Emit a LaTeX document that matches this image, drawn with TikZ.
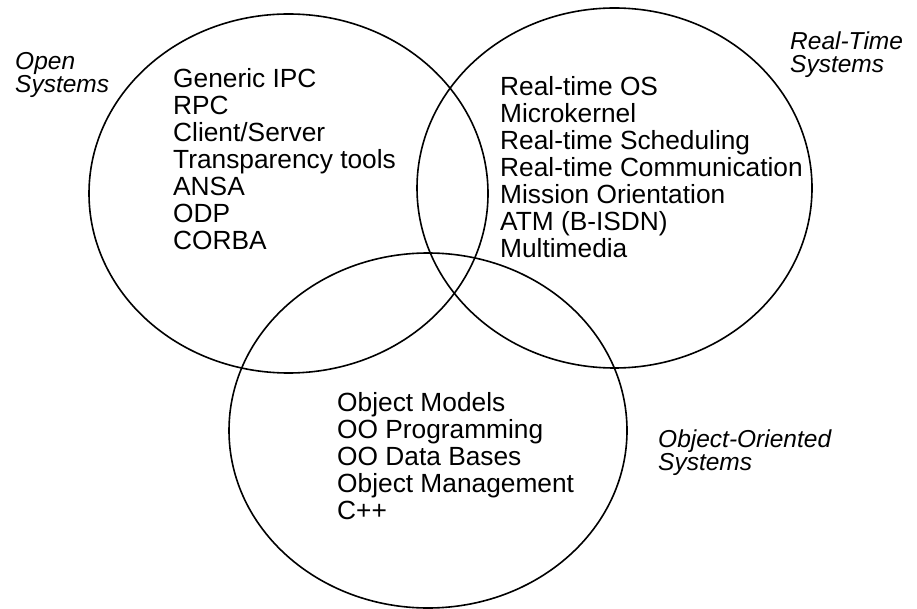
\documentclass[tikz,border=0pt]{standalone}
\usepackage{fontspec}
\setmainfont{Liberation Sans}
\begin{document}
\begin{tikzpicture}[x=1pt,y=-1pt,
  ring/.style={draw=black,line width=1.6pt},
  item/.style={anchor=north west,inner sep=0pt,align=left,font=\fontsize{26.3}{27}\selectfont},
  tag/.style={anchor=north west,inner sep=0pt,align=left,font=\fontsize{24.5}{23}\selectfont\itshape}]
\useasboundingbox (0,0) rectangle (917,609);
\draw[ring] (288.5,193.5) ellipse [x radius=199.5pt, y radius=179.5pt];
\draw[ring] (614.5,188) ellipse [x radius=197.5pt, y radius=180pt];
\draw[ring] (428,430.5) ellipse [x radius=199pt, y radius=177.5pt];
\node[item] (open) at (173,68.5) {Generic IPC\\RPC\\Client/Server\\Transparency tools\\ANSA\\ODP\\CORBA};
\node[item] (rt) at (500,76) {Real-time OS\\Microkernel\\Real-time Scheduling\\Real-time Communication\\Mission Orientation\\ATM (B-ISDN)\\Multimedia};
\node[item] (oo) at (337,392.5) {Object Models\\OO Programming\\OO Data Bases\\Object Management\\C++};
\node[tag] (openlbl) at (15,52) {Open\\Systems};
\node[tag] (rtlbl) at (790,32) {Real-Time\\Systems};
\node[tag] (oolbl) at (658,429.5) {Object-Oriented\\Systems};
\end{tikzpicture}
\end{document}
